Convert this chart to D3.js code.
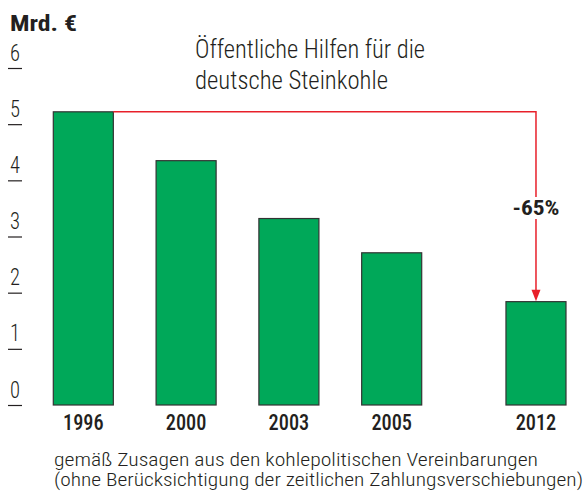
<!DOCTYPE html>
<html><head><meta charset="utf-8">
<script src="https://cdn.jsdelivr.net/npm/d3@7"></script>
<style>
html,body{margin:0;padding:0;background:#fff;}
svg{display:block;}
text{font-family:"Liberation Sans Narrow","Roboto Condensed","DejaVu Sans Condensed","Liberation Sans",sans-serif;fill:#231f20;}
</style></head>
<body>
<svg id="chart" width="586" height="492"></svg>
<script>
// ---- data ----
const years = ["1996", "2000", "2003", "2005", "2012"];
const values = [5.22, 4.35, 3.32, 2.71, 1.84];
const yTicks = [0, 1, 2, 3, 4, 5, 6];
const unitLabel = "Mrd. €";
const titleLines = ["Öffentliche Hilfen für die", "deutsche Steinkohle"];
const changeLabel = "-65%";
const footLines = ["gemäß Zusagen aus den kohlepolitischen Vereinbarungen",
                   "(ohne Berücksichtigung der zeitlichen Zahlungsverschiebungen)"];

// ---- layout ----
const svg = d3.select("#chart");
const green = "#00a859", red = "#e8202a", ink = "#231f20";
const y = d3.scaleLinear().domain([0, 6]).range([405, 68]);
const xBand = d3.scaleBand().domain(years).range([53.3, 524.5]).paddingInner(0.416).paddingOuter(0);
const lastGap = 41.5; // extra space before the final year (time break)
const xPos = d => xBand(d) + (d === years[years.length - 1] ? lastGap : 0);
const bw = xBand.bandwidth();

function fit(sel, w) { sel.attr("textLength", w).attr("lengthAdjust", "spacingAndGlyphs"); }

// unit
svg.append("text").attr("x", 10).attr("y", 30.5).attr("font-size", 22).attr("font-weight", "bold")
  .text(unitLabel).call(fit, 67);

// y axis: labels with small underline ticks
const yAxis = d3.axisLeft(y).tickValues(yTicks).tickSize(0).tickFormat(d3.format("d"));
const gy = svg.append("g").call(yAxis).attr("font-family", null).attr("font-size", null);
gy.select(".domain").remove();
gy.selectAll(".tick text").attr("x", 15).attr("dy", -8).attr("text-anchor", "middle")
  .attr("font-size", 23).attr("fill", ink).style("font-weight", 300)
  .call(fit, 10);
gy.selectAll(".tick line").attr("x1", 8).attr("x2", 22).attr("stroke", ink).attr("stroke-width", 1.2);

// title
svg.selectAll("text.title").data(titleLines).join("text").attr("class", "title")
  .attr("x", 195).attr("y", (d, i) => 57.7 + i * 30.8)
  .attr("font-size", 26).style("font-weight", 300).attr("fill", "#333")
  .text(d => d).each(function (d, i) { d3.select(this).call(fit, i === 0 ? 230 : 193); });

// bars
svg.selectAll("rect.bar").data(values).join("rect").attr("class", "bar")
  .attr("x", (d, i) => xPos(years[i]))
  .attr("y", d => y(d))
  .attr("width", bw)
  .attr("height", d => y(0) - y(d))
  .attr("fill", green).attr("stroke", "#333").attr("stroke-width", 1.2);

// x labels
svg.selectAll("text.xl").data(years).join("text").attr("class", "xl")
  .attr("x", d => xPos(d) + bw / 2).attr("y", 430).attr("text-anchor", "middle")
  .attr("font-size", 22).style("font-weight", 500).text(d => d).call(fit, 40.6);

// change arrow
const first = 0, last = years.length - 1;
const ax = xPos(years[last]) + bw / 2;
const y0 = y(values[first]), y1 = y(values[last]);
const labY = 215;
svg.append("path")
  .attr("d", `M${xPos(years[first]) + bw},${y0}H${ax}V${labY - 18}M${ax},${labY + 4}V${y1 - 10}`)
  .attr("fill", "none").attr("stroke", red).attr("stroke-width", 1.5);
svg.append("path")
  .attr("d", `M${ax - 4.5},${y1 - 12}L${ax + 4.5},${y1 - 12}L${ax},${y1 - 0.5}Z`)
  .attr("fill", red);
svg.append("text").attr("x", ax).attr("y", labY).attr("text-anchor", "middle")
  .attr("font-size", 21).attr("font-weight", "bold").text(changeLabel).call(fit, 47);

// footnote
svg.selectAll("text.foot").data(footLines).join("text").attr("class", "foot")
  .attr("x", 54).attr("y", (d, i) => 466 + i * 20)
  .attr("font-size", 18.5).style("font-weight", 300).attr("fill", "#333")
  .text(d => d).each(function (d, i) { d3.select(this).call(fit, i === 0 ? 484 : 529); });
</script>
</body></html>
